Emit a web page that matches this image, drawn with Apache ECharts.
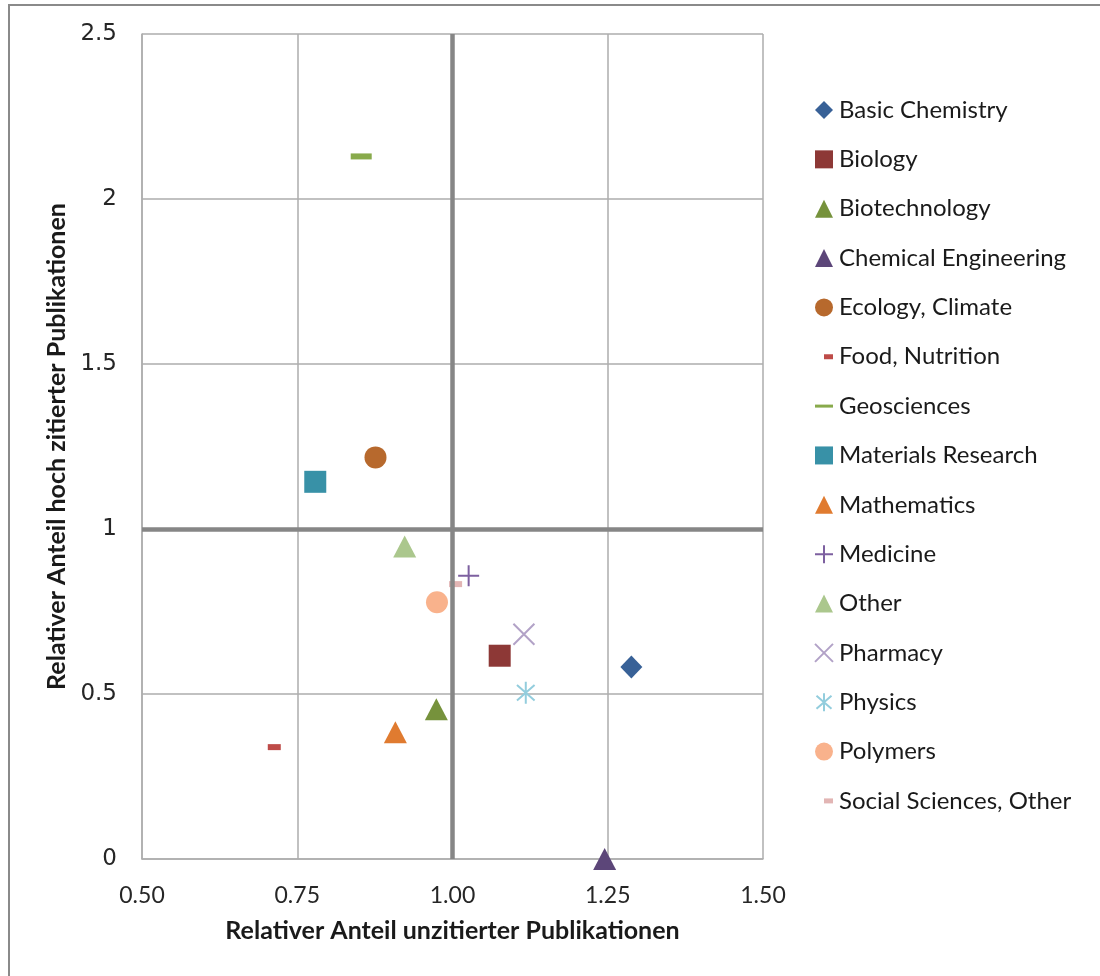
<!DOCTYPE html>
<html>
<head>
<meta charset="utf-8">
<script src="https://cdn.jsdelivr.net/npm/echarts@6/dist/echarts.min.js"></script>
<style>
  html, body { margin: 0; padding: 0; background: #fff; }
  #chart { width: 1100px; height: 976px; }
</style>
</head>
<body>
<div id="chart"></div>
<script>
// Research fields: share of uncited publications vs. share of highly cited publications
const categories = [
  'Basic Chemistry', 'Biology', 'Biotechnology', 'Chemical Engineering',
  'Ecology, Climate', 'Food, Nutrition', 'Geosciences', 'Materials Research',
  'Mathematics', 'Medicine', 'Other', 'Pharmacy', 'Physics', 'Polymers',
  'Social Sciences, Other'
];
const xValues = [1.288, 1.076, 0.974, 1.245, 0.876, 0.713, 0.853, 0.779, 0.908, 1.026, 0.923, 1.115, 1.118, 0.975, 1.005];
const yValues = [0.582, 0.616, 0.454, 0.000, 1.217, 0.339, 2.129, 1.143, 0.384, 0.858, 0.947, 0.681, 0.504, 0.778, 0.833];
const xTicks = [0.50, 0.75, 1.00, 1.25, 1.50];
const yTicks = [0, 0.5, 1, 1.5, 2, 2.5];
const referenceX = 1;
const referenceY = 1;

// Marker shapes (plot symbol, plot size, legend icon) and colours per field
const SQ = 'M0,0M18,18';
const markerStyles = {
  'Basic Chemistry':        { symbol: 'diamond', size: [22, 23], icon: 'path://M9,0L18,9L9,18L0,9Z', color: '#386197' },
  'Biology':                { symbol: 'rect', size: [22, 22], icon: 'path://M0,0h18v18h-18z', color: '#8D3836' },
  'Biotechnology':          { symbol: 'triangle', size: [23, 22], icon: 'path://M9,0L18,18L0,18Z', color: '#76923C' },
  'Chemical Engineering':   { symbol: 'triangle', size: [23, 22], icon: 'path://M9,0L18,18L0,18Z', color: '#5C4679' },
  'Ecology, Climate':       { symbol: 'circle', size: 22, icon: 'circle', color: '#B7692D' },
  'Food, Nutrition':        { symbol: 'rect', size: [13, 6], icon: 'path://' + SQ + 'M9,6.5h9v5h-9z', color: '#BE4B48' },
  'Geosciences':            { symbol: 'rect', size: [21, 6], icon: 'path://' + SQ + 'M0,7.5h18v3h-18z', color: '#88AA4B' },
  'Materials Research':     { symbol: 'rect', size: [22, 22], icon: 'path://M0,0h18v18h-18z', color: '#3891A7' },
  'Mathematics':            { symbol: 'triangle', size: [23, 22], icon: 'path://M9,0L18,18L0,18Z', color: '#E07B30' },
  'Medicine':               { symbol: 'path://M0,10.5L21,10.5M10.5,0L10.5,21', size: 21, icon: 'path://' + SQ + 'M0,9L18,9M9,0L9,18', color: '#7D60A0', stroke: 2 },
  'Other':                  { symbol: 'triangle', size: [23, 22], icon: 'path://M9,0L18,18L0,18Z', color: '#ABC78D' },
  'Pharmacy':               { symbol: 'path://M0,0L20,20M0,20L20,0', size: 21, icon: 'path://' + SQ + 'M0,0L18,18M0,18L18,0', color: '#B2A2C7', stroke: 2 },
  'Physics':                { symbol: 'path://M0,0M20,20M10,0L10,20M2,3L18,17M2,17L18,3', size: 22, icon: 'path://' + SQ + 'M9,0L9,18M1.5,2.5L16.5,15.5M1.5,15.5L16.5,2.5', color: '#93CDDD', stroke: 2 },
  'Polymers':               { symbol: 'circle', size: 22, icon: 'circle', color: '#F9B28C' },
  'Social Sciences, Other': { symbol: 'rect', size: [13, 6], icon: 'path://' + SQ + 'M9,6.5h9v5h-9z', color: '#E2B5B4' }
};

function itemStyleFor(st) {
  return st.stroke
    ? { color: 'transparent', borderColor: st.color, borderWidth: st.stroke, opacity: 1 }
    : { color: st.color, opacity: 1 };
}

const scatterSeries = categories.map((name, i) => {
  const st = markerStyles[name];
  return {
    name: name,
    type: 'scatter',
    z: 3,
    symbol: st.symbol,
    symbolSize: st.size,
    symbolKeepAspect: false,
    itemStyle: itemStyleFor(st),
    emphasis: { disabled: true },
    data: [[xValues[i], yValues[i]]]
  };
});

// Bold reference lines at 1.0 on both axes, kept beneath the markers
const referenceSeries = {
  name: 'reference',
  type: 'line',
  z: 1,
  data: [],
  markLine: {
    silent: true,
    symbol: 'none',
    animation: false,
    label: { show: false },
    lineStyle: { color: '#868686', width: 4.5, type: 'solid' },
    data: [{ xAxis: referenceX }, { yAxis: referenceY }]
  }
};

const legendData = categories.map(name => {
  const st = markerStyles[name];
  return { name: name, icon: st.icon, itemStyle: itemStyleFor(st) };
});

const titleFont = { fontFamily: 'Lato', fontWeight: 'bold', fontSize: 25, color: '#1a1a1a' };

const chart = echarts.init(document.getElementById('chart'), null, { renderer: 'canvas' });
chart.setOption({
  animation: false,
  backgroundColor: '#ffffff',
  graphic: [{
    type: 'rect',
    silent: true,
    shape: { x: 9, y: 5, width: 1200, height: 1200 },
    style: { fill: 'none', stroke: '#8a8a8a', lineWidth: 2 }
  }],
  grid: { left: 142, right: 337, top: 34, bottom: 117, containLabel: false },
  xAxis: {
    type: 'value',
    min: xTicks[0],
    max: xTicks[xTicks.length - 1],
    interval: xTicks[1] - xTicks[0],
    name: 'Relativer Anteil unzitierter Publikationen',
    nameLocation: 'middle',
    nameGap: 59,
    nameTextStyle: titleFont,
    axisLine: { show: true, onZero: false, lineStyle: { color: '#ADADAD', width: 1.5 } },
    axisTick: { show: false },
    axisLabel: {
      margin: 25,
      fontFamily: 'Lato', fontSize: 23, color: '#262626',
      formatter: v => v.toFixed(2)
    },
    splitLine: { show: true, lineStyle: { color: '#ADADAD', width: 1.5 } }
  },
  yAxis: {
    type: 'value',
    min: yTicks[0],
    max: yTicks[yTicks.length - 1],
    interval: yTicks[1] - yTicks[0],
    name: 'Relativer Anteil hoch zitierter Publikationen',
    nameLocation: 'middle',
    nameGap: 68,
    nameRotate: 90,
    nameTextStyle: titleFont,
    axisLine: { show: true, onZero: false, lineStyle: { color: '#ADADAD', width: 1.5 } },
    axisTick: { show: false },
    axisLabel: { margin: 25, fontFamily: 'DejaVu Sans', fontSize: 23, color: '#262626' },
    splitLine: { show: true, lineStyle: { color: '#ADADAD', width: 1.5 } }
  },
  legend: {
    orient: 'vertical',
    left: 814,
    top: 98,
    padding: 0,
    itemWidth: 18,
    itemHeight: 18,
    itemGap: 25.35,
    selectedMode: false,
    textStyle: { fontFamily: 'Lato', fontSize: 24, color: '#1a1a1a', lineHeight: 24, padding: [0, 0, 0, 1] },
    data: legendData
  },
  series: [referenceSeries].concat(scatterSeries)
});
</script>
</body>
</html>
